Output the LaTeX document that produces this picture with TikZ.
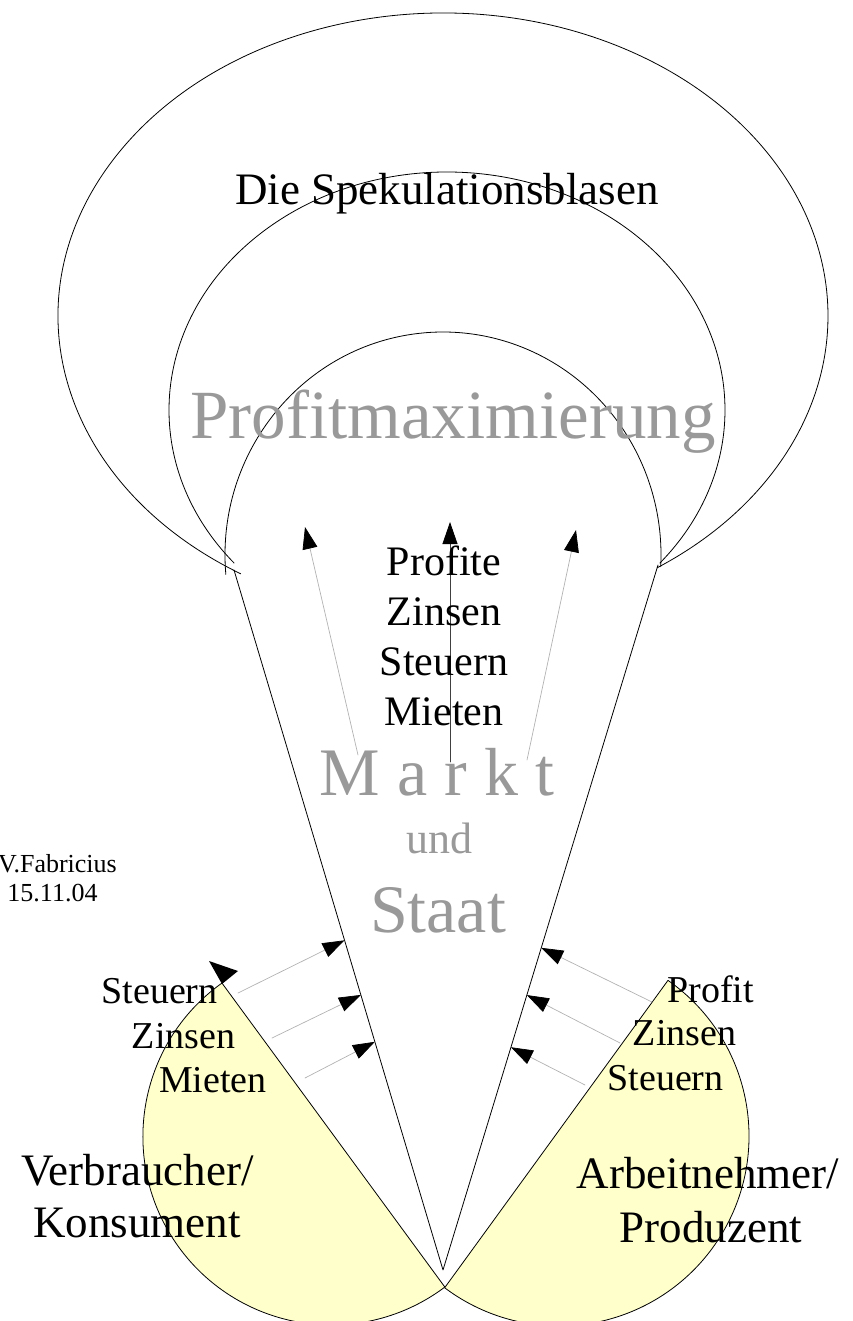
\documentclass[tikz,border=0pt]{standalone}
\usepackage{fontspec}
\setmainfont{Liberation Serif}
\usetikzlibrary{arrows.meta,calc}
\definecolor{paleyellow}{RGB}{255,255,204}
\definecolor{markgray}{RGB}{153,153,153}

\begin{document}
\begin{tikzpicture}[x=1pt,y=1pt,line join=round,line cap=round,
		outline/.style={draw=black,line width=0.8pt},
		party/.style={outline,fill=paleyellow},
		flow/.style={draw=black!30,line width=0.7pt,-{Triangle[length=22pt,width=15pt,color=black]}},
		mainflow/.style={draw=black!75,line width=0.8pt,-{Triangle[length=22pt,width=15pt,color=black]}},
		txt/.style={inner sep=0pt,anchor=base},
		graytxt/.style={txt,text=markgray}]
	\useasboundingbox (0,0) rectangle (852,-1321);
	
	% Verbraucher / Arbeitnehmer
	\coordinate (lc) at (331.4,-1136.5);
	\coordinate (rc) at (559,-1136);
	\filldraw[party] ([shift={(125.5:188.5)}]lc) arc[start angle=125.5,end angle=307,radius=188.5] -- cycle;
	\filldraw[party] ([shift={(55:190)}]rc) arc[start angle=55,end angle=-127,radius=190] -- cycle;
	\fill (209,-961) -- (238,-971) -- (222,-984) -- cycle;
	
	% Blasen
	\coordinate (outerc) at (443,-316);
	\coordinate (middlec) at (447,-410);
	\coordinate (innerc) at (443,-555);
	\draw[outline] ([shift={(238.3:385 and 303)}]outerc) arc[start angle=238.3,end angle=-56.2,x radius=385,y radius=303];
	\draw[outline] ([shift={(220:278 and 238)}]middlec) arc[start angle=220,end angle=-40,x radius=278,y radius=238];
	\draw[outline] ([shift={(185:218 and 223)}]innerc) arc[start angle=185,end angle=-3,x radius=218,y radius=223];
	
	% Markt-Trichter
	\coordinate (lconv) at (234,-570);
	\coordinate (rconv) at (658,-565);
	\coordinate (apex) at (443,-1270);
	\draw[outline] (lconv) -- (apex) -- (rconv);
	
	% Pfeile nach oben
	\foreach \n/\sx/\sy/\tx/\ty in {l/358/755/305/527, r/527/760/576/530} {
		\coordinate (up\n) at (\sx,-\sy);
		\coordinate (tip\n) at (\tx,-\ty);
		\draw[flow] (up\n) -- (tip\n);
	}
	\coordinate (upm) at (450,-762);
	\coordinate (tipm) at (450,-522);
	\draw[mainflow] (upm) -- (tipm);
	
	% Pfeile in den Markt
	\foreach \i/\sx/\sy/\f in {1/238/993/0.529, 2/272/1038/0.607, 3/305/1078/0.674} {
		\coordinate (ls\i) at (\sx,-\sy);
		\coordinate (lt\i) at ($(lconv)!\f!(apex)$);
		\draw[flow] (ls\i) -- (lt\i);
	}
	\foreach \i/\sx/\sy/\f in {1/652/1002/0.543, 2/620/1043/0.610, 3/585/1085/0.684} {
		\coordinate (rs\i) at (\sx,-\sy);
		\coordinate (rt\i) at ($(rconv)!\f!(apex)$);
		\draw[flow] (rs\i) -- (rt\i);
	}
	
	% Texte
	\node[txt,font=\fontsize{45}{50}\selectfont] (title) at (447,-205) {Die Spekulationsblasen};
	\node[graytxt,font=\fontsize{69}{76}\selectfont] (pmax) at (453,-438) {Profitmaximierung};
	\node[txt,font=\fontsize{42}{48}\selectfont] (mprofite) at (444,-575) {Profite};
	\node[txt,font=\fontsize{42}{48}\selectfont] (mzinsen) at (444,-625) {Zinsen};
	\node[txt,font=\fontsize{42}{48}\selectfont] (msteuern) at (444,-675) {Steuern};
	\node[txt,font=\fontsize{42}{48}\selectfont] (mmieten) at (444,-725) {Mieten};
	\node[graytxt,font=\fontsize{68}{76}\selectfont] (markt) at (437,-795) {M a r k t};
	\node[graytxt,font=\fontsize{44}{50}\selectfont] (und) at (439,-853) {und};
	\node[graytxt,font=\fontsize{68}{76}\selectfont] (staat) at (438,-932) {Staat};
	
	\node[txt,anchor=base east,font=\fontsize{26}{30}\selectfont] (autor) at (117,-872) {V.Fabricius};
	\node[txt,font=\fontsize{26}{30}\selectfont] (datum) at (52.5,-901) {15.11.04};
	
	\node[txt,font=\fontsize{38}{44}\selectfont] (lsteuern) at (159.5,-1003) {Steuern};
	\node[txt,font=\fontsize{38}{44}\selectfont] (lzinsen) at (183.5,-1048) {Zinsen};
	\node[txt,font=\fontsize{38}{44}\selectfont] (lmieten) at (213,-1092) {Mieten};
	\node[txt,font=\fontsize{45}{50}\selectfont] (verbraucher) at (137.5,-1185) {Verbraucher/};
	\node[txt,font=\fontsize{45}{50}\selectfont] (konsument) at (137,-1237) {Konsument};
	
	\node[txt,font=\fontsize{38}{44}\selectfont] (rprofit) at (710.5,-1002) {Profit};
	\node[txt,font=\fontsize{38}{44}\selectfont] (rzinsen) at (684.5,-1045) {Zinsen};
	\node[txt,font=\fontsize{38}{44}\selectfont] (rsteuern) at (665.5,-1090) {Steuern};
	\node[txt,font=\fontsize{45}{50}\selectfont] (arbeitnehmer) at (708,-1188) {Arbeitnehmer/};
	\node[txt,font=\fontsize{45}{50}\selectfont] (produzent) at (711,-1242) {Produzent};
\end{tikzpicture}
\end{document}
